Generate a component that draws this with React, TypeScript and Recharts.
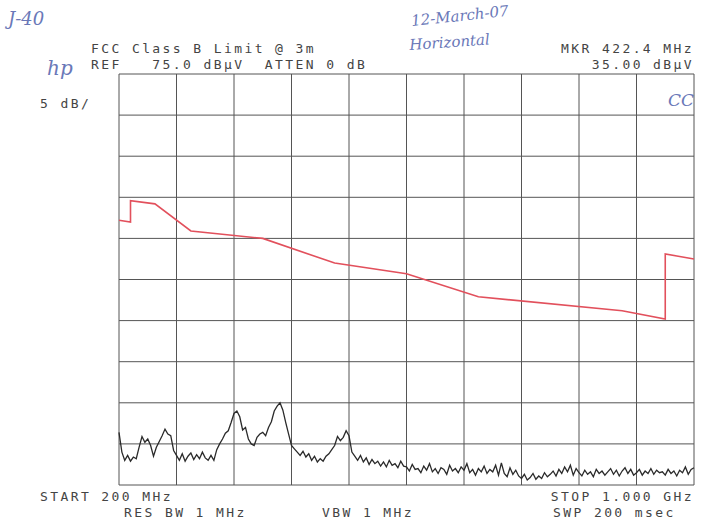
import React from 'react';
import {
  LineChart,
  Line,
  XAxis,
  YAxis,
  ReferenceLine
} from 'recharts';

// sweep 200 MHz .. 1 GHz, REF 75 dBuV, 5 dB/div
const freqTicks = [200, 280, 360, 440, 520, 600, 680, 760, 840, 920, 1000];
const levelTicks = [25, 30, 35, 40, 45, 50, 55, 60, 65, 70, 75];

// FCC class B limit (red), MHz / dBuV
const limitFreq = [200, 216, 216, 250, 300, 400, 500, 600, 700, 900, 960, 960, 1000];
const limitLevel = [57.2, 57.0, 59.6, 59.2, 55.9, 55.0, 52.0, 50.7, 47.9, 46.2, 45.2, 53.1, 52.5];

// measured trace, one reading every 4 MHz from 200 MHz
const NOISE_START = 200;
const NOISE_STEP = 4;
const noiseLevel = [
  31.4, 29.0, 28.0, 28.6, 27.9, 28.4, 28.2, 29.6, 30.9, 30.2,
  30.6, 29.8, 28.5, 29.6, 30.3, 31.0, 31.8, 31.2, 31.0, 29.2,
  28.6, 28.0, 28.8, 27.9, 28.5, 28.9, 28.1, 28.7, 28.2, 29.0,
  28.3, 28.0, 28.6, 28.0, 29.3, 30.0, 30.6, 31.3, 31.6, 32.6,
  33.7, 34.0, 33.3, 31.7, 32.0, 30.6, 30.0, 29.8, 30.8, 31.2,
  31.4, 31.0, 32.0, 32.7, 34.0, 34.6, 35.0, 34.1, 32.6, 31.2,
  29.8, 29.4, 29.0, 28.6, 29.1, 28.4, 28.8, 28.0, 28.5, 27.8,
  28.2, 27.9, 28.5, 28.8, 29.3, 29.8, 30.9, 30.4, 30.8, 31.6,
  31.0, 29.0, 28.5, 28.0, 28.6, 27.8, 28.3, 27.5, 28.1, 27.6,
  27.9, 27.3, 27.8, 27.2, 28.0, 27.4, 27.6, 27.1, 27.9, 27.3,
  27.2, 26.7, 27.5, 26.9, 27.0, 26.5, 27.3, 26.8, 27.6, 26.6,
  27.0, 26.4, 27.1, 26.9, 26.3, 27.4, 26.7, 27.0, 26.5, 27.2,
  26.8, 27.6, 26.5, 26.9, 26.2, 27.0, 26.6, 27.3, 26.4, 26.9,
  26.6, 27.4, 26.2, 27.7, 26.4, 26.0, 27.1, 26.3, 26.8, 26.1,
  25.8, 26.3, 25.6, 25.9, 26.4, 25.7, 26.1, 25.8, 26.5, 26.0,
  26.3, 26.7, 26.1, 26.9, 26.4, 27.2, 26.6, 27.4, 26.2, 27.0,
  26.5, 26.1, 26.8, 26.3, 26.6, 26.0, 26.9, 26.4, 26.7, 26.2,
  26.6, 27.0, 26.3, 26.8, 26.1, 26.7, 27.1, 26.4, 26.9, 26.2,
  26.5, 26.9, 26.2, 26.7, 26.4, 27.0, 26.3, 26.8, 26.5, 26.6,
  26.2, 26.9, 26.4, 26.7, 26.1, 26.8, 26.5, 27.2, 26.3, 26.9,
  27.1
];

const limitData = limitFreq.map((f, i) => ({ f, v: limitLevel[i] }));
const noiseData = noiseLevel.map((v, i) => ({ f: NOISE_START + i * NOISE_STEP, v }));

const MONO = '"DejaVu Sans Mono", "Liberation Mono", monospace';
const HAND = '"DejaVu Serif", "Liberation Serif", serif';
const GRID = '#555';

const Txt = ({ x, y, right, children }: { x: number; y: number; right?: boolean; children: React.ReactNode }) => (
  <div
    style={{
      position: 'absolute',
      top: y,
      ...(right ? { right: 709 - x } : { left: x }),
      fontFamily: MONO,
      fontSize: 13,
      lineHeight: '13px',
      letterSpacing: 2.4,
      color: '#444',
      whiteSpace: 'pre'
    }}
  >
    {children}
  </div>
);

const Hand = ({ x, y, size, rotate, children }: { x: number; y: number; size: number; rotate?: number; children: React.ReactNode }) => (
  <div
    style={{
      position: 'absolute',
      left: x,
      top: y,
      fontFamily: HAND,
      fontStyle: 'italic',
      fontSize: size,
      lineHeight: 1,
      color: '#6a78b8',
      whiteSpace: 'pre',
      transform: rotate ? `rotate(${rotate}deg)` : undefined,
      transformOrigin: 'left bottom'
    }}
  >
    {children}
  </div>
);

const App: React.FC = () => {
  return (
    <div style={{ position: 'absolute', left: 0, top: 0, width: 709, height: 520, background: '#fff' }}>
      <LineChart
        width={709}
        height={520}
        margin={{ top: 74, right: 15, left: 119, bottom: 35 }}
      >
        <XAxis
          dataKey="f"
          type="number"
          domain={[200, 1000]}
          ticks={freqTicks}
          height={0}
          tick={false}
          tickLine={false}
          axisLine={false}
          allowDuplicatedCategory={false}
        />
        <YAxis
          type="number"
          domain={[25, 75]}
          ticks={levelTicks}
          width={0}
          tick={false}
          tickLine={false}
          axisLine={false}
        />
        {freqTicks.map((f) => (
          <ReferenceLine key={`v${f}`} x={f} stroke={GRID} strokeWidth={1} />
        ))}
        {levelTicks.map((l) => (
          <ReferenceLine key={`h${l}`} y={l} stroke={GRID} strokeWidth={1} />
        ))}
        <Line
          data={limitData}
          dataKey="v"
          type="linear"
          stroke="#e2505c"
          strokeWidth={1.6}
          dot={false}
          isAnimationActive={false}
        />
        <Line
          data={noiseData}
          dataKey="v"
          type="linear"
          stroke="#2a2a2a"
          strokeWidth={1.3}
          dot={false}
          isAnimationActive={false}
        />
      </LineChart>

      <Txt x={91} y={42}>FCC Class B Limit @ 3m</Txt>
      <Txt x={91} y={58}>REF   75.0 dBµV  ATTEN 0 dB</Txt>
      <Txt x={694} y={42} right>MKR 422.4 MHz</Txt>
      <Txt x={694} y={58} right>35.00 dBµV</Txt>
      <Txt x={40} y={97}>5 dB/</Txt>
      <Txt x={40} y={490}>START 200 MHz</Txt>
      <Txt x={694} y={490} right>STOP 1.000 GHz</Txt>
      <Txt x={124} y={506}>RES BW 1 MHz</Txt>
      <Txt x={322} y={506}>VBW 1 MHz</Txt>
      <Txt x={553} y={506}>SWP 200 msec</Txt>

      <Hand x={8} y={10} size={18}>J-40</Hand>
      <Hand x={412} y={14} size={15} rotate={-6}>12-March-07</Hand>
      <Hand x={410} y={38} size={15} rotate={-4}>Horizontal</Hand>
      <Hand x={668} y={92} size={17}>CC</Hand>
      <Hand x={47} y={58} size={20}>hp</Hand>
    </div>
  );
};

export default App;
